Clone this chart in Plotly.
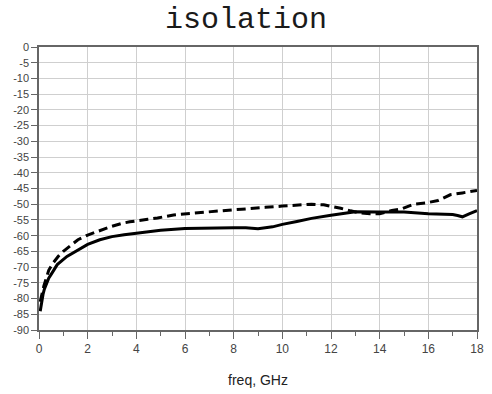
import plotly.graph_objects as go

# Solid trace (freq GHz, dB)
solid_f = [0.05, 0.08, 0.12, 0.17, 0.22, 0.3, 0.4, 0.5, 0.75, 1.15, 1.7, 2.0, 2.5, 3.0, 3.5, 4.0,
           5.0, 6.0, 7.0, 8.0, 8.5, 9.0, 9.6, 10.0, 10.6, 11.2, 12.0, 12.6, 13.0, 14.0,
           15.0, 16.0, 17.0, 17.2, 17.4, 17.7, 18.0]
solid_db = [-84, -82.5, -80, -78.5, -77, -75.5, -73.5, -72.3, -69.2, -66.6, -64, -62.8, -61.3, -60.3,
            -59.7, -59.2, -58.3, -57.7, -57.5, -57.5, -57.5, -57.8, -57.2, -56.4, -55.5, -54.5,
            -53.5, -52.7, -52.4, -52.5, -52.5, -53.0, -53.3, -53.6, -54.0, -53.0, -52.0]

# Dashed trace
dash_f = [0.05, 0.1, 0.2, 0.3, 0.4, 0.55, 0.8, 1.0, 1.27, 1.6, 2.0, 2.27, 2.67, 3.0, 3.4, 3.73,
          4.47, 4.87, 5.53, 5.93, 6.73, 7.13, 7.93, 8.33, 8.87, 9.3, 10.0, 10.7, 11.2, 11.7,
          12.0, 12.4, 12.8, 13.2, 13.6, 14.0, 14.5, 14.9, 15.4, 15.9, 16.4, 16.7, 16.9, 17.4, 17.85, 18.0]
dash_db = [-81, -79, -76, -73.5, -71, -69, -66.5, -65, -63.2, -61.3, -59.8, -59, -57.8, -57.0,
           -56.1, -55.6, -54.8, -54.4, -53.4, -53.1, -52.6, -52.2, -51.8, -51.6, -51.4, -51.0,
           -50.6, -50.3, -50.0, -50.2, -50.6, -51.3, -52.1, -52.8, -53.0, -53.0, -52.0, -51.5,
           -50.0, -49.6, -48.8, -47.8, -47.0, -46.4, -45.8, -45.6]

x_ticks = list(range(0, 19, 2))
y_ticks = list(range(-90, 1, 5))

fig = go.Figure()
fig.add_trace(go.Scatter(x=dash_f, y=dash_db, mode="lines",
                         line=dict(color="black", width=3, dash="9px,5px"),
                         showlegend=False))
fig.add_trace(go.Scatter(x=solid_f, y=solid_db, mode="lines",
                         line=dict(color="black", width=3),
                         showlegend=False))

fig.update_layout(
    width=492, height=394,
    margin=dict(l=39, r=8, t=47, b=63),
    paper_bgcolor="white", plot_bgcolor="white",
    title=dict(text="isolation", x=0.5, xanchor="center", y=0.955, yanchor="middle",
               font=dict(family="Liberation Mono", size=30, color="#1a1a1a")),
    xaxis=dict(range=[0, 18], tickvals=x_ticks, ticktext=[str(v) for v in x_ticks],
               showgrid=True, gridcolor="#cfcfcf", gridwidth=1,
               showline=True, linecolor="#666", linewidth=1.5, mirror=True,
               ticks="outside", ticklen=7, tickcolor="#666",
               minor=dict(dtick=1, ticks="outside", ticklen=4, tickcolor="#666", showgrid=False),
               tickfont=dict(family="Liberation Sans", size=12, color="#444"),
               title=dict(text="freq, GHz", font=dict(family="Liberation Sans", size=14, color="#222"),
                          standoff=20),
               zeroline=False),
    yaxis=dict(range=[-90, 0], tickvals=y_ticks, ticktext=[str(v) for v in y_ticks],
               showgrid=True, gridcolor="#cfcfcf", gridwidth=1,
               showline=True, linecolor="#666", linewidth=1.5, mirror=True,
               ticks="outside", ticklen=6, tickcolor="#666",
               tickfont=dict(family="Liberation Sans", size=11, color="#444"),
               zeroline=False),
)

fig.write_html("out.html")
